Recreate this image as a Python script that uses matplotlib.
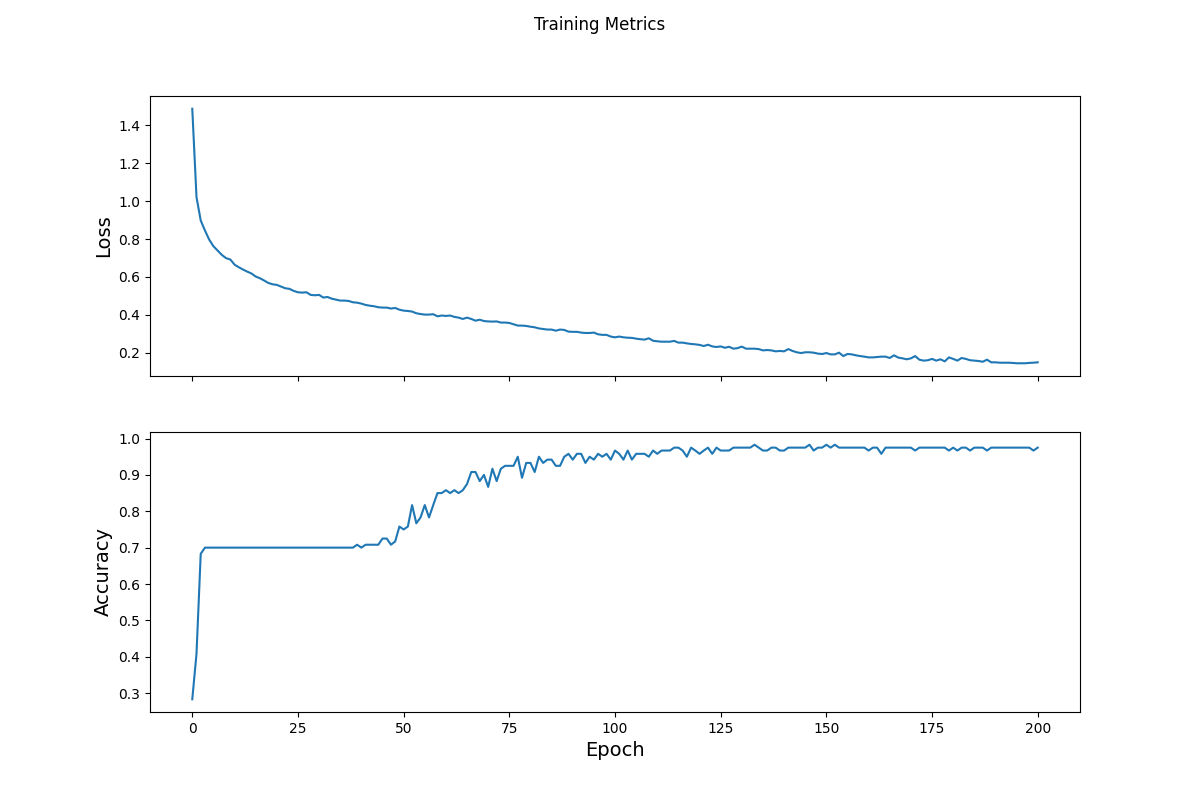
import matplotlib
matplotlib.use("Agg")
import matplotlib.pyplot as plt

title = "Training Metrics"
x_label = "Epoch"
loss_label = "Loss"
acc_label = "Accuracy"

loss = [
    1.488, 1.021, 0.898, 0.845, 0.797, 0.762, 0.739, 0.716, 0.699, 0.692,   # 0-9
    0.665, 0.651, 0.639, 0.628, 0.618, 0.602, 0.593, 0.581, 0.568, 0.561,   # 10-19
    0.558, 0.549, 0.540, 0.537, 0.526, 0.519, 0.517, 0.519, 0.505, 0.503,   # 20-29
    0.505, 0.491, 0.494, 0.485, 0.480, 0.475, 0.475, 0.473, 0.466, 0.464,   # 30-39
    0.459, 0.452, 0.448, 0.445, 0.440, 0.438, 0.438, 0.433, 0.436, 0.427,   # 40-49
    0.422, 0.420, 0.417, 0.408, 0.404, 0.401, 0.401, 0.403, 0.392, 0.396,   # 50-59
    0.394, 0.396, 0.389, 0.385, 0.378, 0.385, 0.378, 0.369, 0.374, 0.367,   # 60-69
    0.365, 0.364, 0.365, 0.359, 0.359, 0.357, 0.350, 0.343, 0.343, 0.341,   # 70-79
    0.337, 0.334, 0.328, 0.325, 0.322, 0.322, 0.316, 0.322, 0.320, 0.311,   # 80-89
    0.310, 0.310, 0.306, 0.304, 0.304, 0.306, 0.297, 0.294, 0.294, 0.285,   # 90-99
    0.281, 0.285, 0.281, 0.279, 0.278, 0.274, 0.271, 0.269, 0.276, 0.263,   # 100-109
    0.260, 0.258, 0.258, 0.258, 0.262, 0.253, 0.253, 0.249, 0.246, 0.244,   # 110-119
    0.241, 0.235, 0.242, 0.233, 0.230, 0.233, 0.226, 0.231, 0.221, 0.224,   # 120-129
    0.232, 0.221, 0.221, 0.221, 0.219, 0.212, 0.214, 0.212, 0.207, 0.209,   # 130-139
    0.207, 0.219, 0.209, 0.202, 0.198, 0.202, 0.202, 0.200, 0.195, 0.193,   # 140-149
    0.198, 0.191, 0.191, 0.200, 0.182, 0.193, 0.191, 0.186, 0.182, 0.179,   # 150-159
    0.175, 0.175, 0.177, 0.179, 0.179, 0.172, 0.186, 0.174, 0.170, 0.165,   # 160-169
    0.170, 0.182, 0.163, 0.158, 0.160, 0.167, 0.158, 0.165, 0.154, 0.175,   # 170-179
    0.167, 0.158, 0.172, 0.167, 0.160, 0.158, 0.156, 0.152, 0.163, 0.149,   # 180-189
    0.149, 0.147, 0.147, 0.147, 0.146, 0.144, 0.144, 0.144, 0.146, 0.147,   # 190-199
    0.149,                                                                  # 200
]

accuracy = [
    0.283, 0.408, 0.683, 0.700, 0.700, 0.700, 0.700, 0.700, 0.700, 0.700,   # 0-9
    0.700, 0.700, 0.700, 0.700, 0.700, 0.700, 0.700, 0.700, 0.700, 0.700,   # 10-19
    0.700, 0.700, 0.700, 0.700, 0.700, 0.700, 0.700, 0.700, 0.700, 0.700,   # 20-29
    0.700, 0.700, 0.700, 0.700, 0.700, 0.700, 0.700, 0.700, 0.700, 0.708,   # 30-39
    0.700, 0.708, 0.708, 0.708, 0.708, 0.725, 0.725, 0.708, 0.717, 0.758,   # 40-49
    0.750, 0.758, 0.817, 0.767, 0.783, 0.817, 0.783, 0.817, 0.850, 0.850,   # 50-59
    0.858, 0.850, 0.858, 0.850, 0.858, 0.875, 0.908, 0.908, 0.883, 0.900,   # 60-69
    0.867, 0.917, 0.883, 0.917, 0.925, 0.925, 0.925, 0.950, 0.892, 0.933,   # 70-79
    0.933, 0.908, 0.950, 0.933, 0.942, 0.942, 0.925, 0.925, 0.950, 0.958,   # 80-89
    0.942, 0.958, 0.958, 0.933, 0.950, 0.942, 0.958, 0.950, 0.958, 0.942,   # 90-99
    0.967, 0.958, 0.942, 0.967, 0.942, 0.958, 0.958, 0.958, 0.950, 0.967,   # 100-109
    0.958, 0.967, 0.967, 0.967, 0.975, 0.975, 0.967, 0.950, 0.975, 0.967,   # 110-119
    0.958, 0.967, 0.975, 0.958, 0.975, 0.967, 0.967, 0.967, 0.975, 0.975,   # 120-129
    0.975, 0.975, 0.975, 0.983, 0.975, 0.967, 0.967, 0.975, 0.975, 0.967,   # 130-139
    0.967, 0.975, 0.975, 0.975, 0.975, 0.975, 0.983, 0.967, 0.975, 0.975,   # 140-149
    0.983, 0.975, 0.983, 0.975, 0.975, 0.975, 0.975, 0.975, 0.975, 0.975,   # 150-159
    0.967, 0.975, 0.975, 0.958, 0.975, 0.975, 0.975, 0.975, 0.975, 0.975,   # 160-169
    0.975, 0.967, 0.975, 0.975, 0.975, 0.975, 0.975, 0.975, 0.975, 0.967,   # 170-179
    0.975, 0.967, 0.975, 0.975, 0.967, 0.975, 0.975, 0.975, 0.967, 0.975,   # 180-189
    0.975, 0.975, 0.975, 0.975, 0.975, 0.975, 0.975, 0.975, 0.975, 0.967,   # 190-199
    0.975,                                                                  # 200
]

epochs = list(range(len(loss)))

fig, (ax1, ax2) = plt.subplots(2, 1, sharex=True, figsize=(12, 8), dpi=100)
fig.suptitle(title)

ax1.plot(epochs, loss)
ax1.set_ylabel(loss_label, fontsize=14)

ax2.plot(epochs, accuracy)
ax2.set_ylabel(acc_label, fontsize=14)
ax2.set_xlabel(x_label, fontsize=14)

fig.savefig("out.png")
